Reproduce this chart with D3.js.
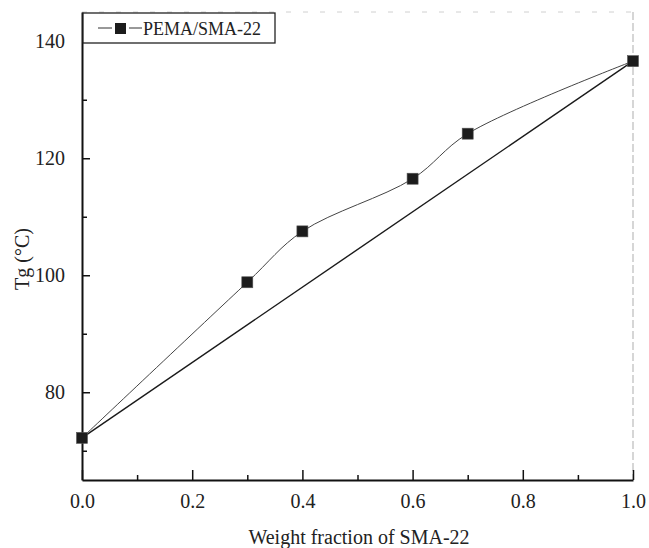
<!DOCTYPE html>
<html>
<head>
<meta charset="utf-8">
<script src="https://cdn.jsdelivr.net/npm/d3@7"></script>
<style>
  html, body { margin: 0; padding: 0; background: #fff; }
  svg { display: block; }
  text { font-family: "Liberation Serif", "DejaVu Serif", serif; fill: #222; }
</style>
</head>
<body>
<svg id="chart" width="649" height="548"></svg>
<script>
// Glass transition temperature of PEMA/SMA-22 blends
const weightFraction = [0.0, 0.3, 0.4, 0.6, 0.7, 1.0];
const tgMeasured     = [72.2, 98.8, 107.5, 116.5, 124.2, 136.6];
const seriesName = "PEMA/SMA-22";

// additive (linear mixing) reference between the two pure components
const additiveX = [0.0, 1.0];
const additiveY = [72.2, 136.6];

const xMajorTicks = [0, 0.2, 0.4, 0.6, 0.8, 1.0];
const xMinorTicks = [0.1, 0.3, 0.5, 0.7, 0.9];
const yMajorTicks = [80, 100, 120, 140];
const yMinorTicks = [70, 90, 110, 130];

const xTitle = "Weight fraction of SMA-22";
const yTitle = "Tg (°C)";

const svg = d3.select("#chart");
const plotLeft = 82, plotRight = 633, plotTop = 12, plotBottom = 480;

const x = d3.scaleLinear().domain([0, 1]).range([plotLeft, plotRight]);
const y = d3.scaleLinear().domain([65, 145]).range([plotBottom, plotTop]);

// faint top and right frame
svg.append("line").attr("x1", plotLeft).attr("x2", plotRight).attr("y1", plotTop).attr("y2", plotTop)
  .attr("stroke", "#d0d0d0").attr("stroke-width", 1).attr("stroke-dasharray", "5,12");
svg.append("line").attr("x1", plotRight).attr("x2", plotRight).attr("y1", plotTop).attr("y2", plotBottom)
  .attr("stroke", "#bbb").attr("stroke-width", 1.2).attr("stroke-dasharray", "8,3");

// bottom axis, ticks pointing inward
const xAxis = svg.append("g").attr("transform", `translate(0,${plotBottom})`)
  .call(d3.axisBottom(x).tickValues(xMajorTicks).tickSizeInner(-10).tickSizeOuter(0)
    .tickPadding(14).tickFormat(d3.format(".1f")));
svg.append("g").attr("transform", `translate(0,${plotBottom})`)
  .call(d3.axisBottom(x).tickValues(xMinorTicks).tickSizeInner(-5).tickSizeOuter(0).tickFormat(""))
  .select(".domain").remove();

// left axis, ticks pointing inward
const yAxis = svg.append("g").attr("transform", `translate(${plotLeft},0)`)
  .call(d3.axisLeft(y).tickValues(yMajorTicks).tickSizeInner(-8).tickSizeOuter(0)
    .tickPadding(17).tickFormat(d3.format("d")));
svg.append("g").attr("transform", `translate(${plotLeft},0)`)
  .call(d3.axisLeft(y).tickValues(yMinorTicks).tickSizeInner(-5).tickSizeOuter(0).tickFormat(""))
  .select(".domain").remove();

svg.selectAll(".domain").attr("stroke", "#111").attr("stroke-width", 2);
svg.selectAll(".tick line").attr("stroke", "#111").attr("stroke-width", 1.5);
svg.selectAll(".tick text").attr("font-size", 20).attr("font-family", "Liberation Serif").attr("fill", "#222");
xAxis.selectAll(".tick text").attr("dy", "0.71em");

// additive line
svg.append("path")
  .datum(additiveX.map((d, i) => [d, additiveY[i]]))
  .attr("fill", "none").attr("stroke", "#1a1a1a").attr("stroke-width", 1.4)
  .attr("d", d3.line().x(d => x(d[0])).y(d => y(d[1])));

// measured Tg, smooth connecting curve
const pts = weightFraction.map((d, i) => [d, tgMeasured[i]]);
svg.append("path")
  .datum(pts)
  .attr("fill", "none").attr("stroke", "#444").attr("stroke-width", 1)
  .attr("d", d3.line().curve(d3.curveCatmullRom.alpha(0.5)).x(d => x(d[0])).y(d => y(d[1])));

const ms = 11;
svg.selectAll("rect.pt").data(pts).enter().append("rect")
  .attr("class", "pt")
  .attr("x", d => x(d[0]) - ms / 2).attr("y", d => y(d[1]) - ms / 2)
  .attr("width", ms).attr("height", ms)
  .attr("fill", "#1c1c1c").attr("stroke", "#555").attr("stroke-width", 0.6);

// legend
const lg = svg.append("g");
lg.append("rect").attr("x", 83).attr("y", 13).attr("width", 192).attr("height", 30)
  .attr("fill", "#fff").attr("stroke", "#222").attr("stroke-width", 1.3);
lg.append("line").attr("x1", 98).attr("x2", 112).attr("y1", 28).attr("y2", 28)
  .attr("stroke", "#333").attr("stroke-width", 1);
lg.append("line").attr("x1", 129).attr("x2", 142).attr("y1", 28).attr("y2", 28)
  .attr("stroke", "#333").attr("stroke-width", 1);
lg.append("rect").attr("x", 115).attr("y", 23).attr("width", 11).attr("height", 11)
  .attr("fill", "#1c1c1c");
lg.append("text").attr("x", 143).attr("y", 35).attr("font-size", 18).text(seriesName);

// axis titles
svg.append("text").attr("x", 359).attr("y", 544).attr("text-anchor", "middle")
  .attr("font-size", 20).text(xTitle);
svg.append("text").attr("transform", "translate(29,259) rotate(-90)")
  .attr("text-anchor", "middle").attr("font-size", 20).text(yTitle);
</script>
</body>
</html>
